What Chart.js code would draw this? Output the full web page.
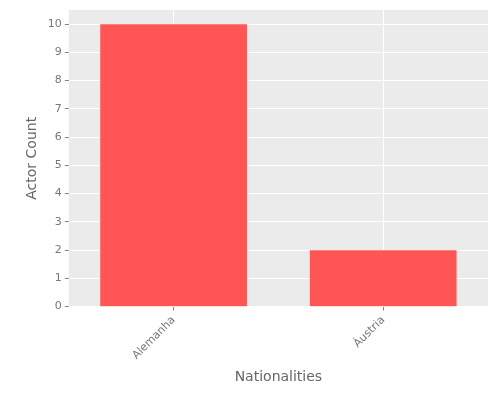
<!DOCTYPE html>
<html><head><script src="https://cdn.jsdelivr.net/npm/chart.js@4"></script>
<style>body{margin:0;background:#fff}#w{width:500px;height:400px}</style></head>
<body><div id="w"><canvas id="c"></canvas></div>
<script>
const categories=["Alemanha","Áustria"];
const counts=[10,2];
const yTicks=[0,1,2,3,4,5,6,7,8,9,10];
const bg={id:'bg',beforeDraw(ch){const a=ch.chartArea,c=ch.ctx;c.save();c.fillStyle='#EBEBEB';c.fillRect(a.left,a.top,a.right-a.left,a.bottom-a.top);c.restore();}};
new Chart(document.getElementById('c'),{type:'bar',
data:{labels:categories,datasets:[{data:counts,backgroundColor:'#FF5555',categoryPercentage:0.7,barPercentage:1}]},
options:{responsive:true,maintainAspectRatio:false,animation:false,
layout:{padding:{top:10,right:12,left:20,bottom:10}},
plugins:{legend:{display:false},tooltip:{enabled:false}},
scales:{
x:{grid:{offset:false,color:'#fff',drawTicks:true,tickLength:4,tickColor:'#888'},border:{display:false},
ticks:{color:'#777',font:{family:'DejaVu Sans',size:11},maxRotation:45,minRotation:45},
title:{display:true,text:'Nationalities',color:'#666',font:{family:'DejaVu Sans',size:14}}},
y:{min:0,max:10.5,afterBuildTicks(s){s.ticks=yTicks.map(v=>({value:v}));},
grid:{color:'#fff',tickLength:4,tickColor:'#888'},border:{display:false},
ticks:{color:'#777',font:{family:'DejaVu Sans',size:11}},
title:{display:true,text:'Actor Count',color:'#666',font:{family:'DejaVu Sans',size:14}}}}},
plugins:[bg]});
</script></body></html>
